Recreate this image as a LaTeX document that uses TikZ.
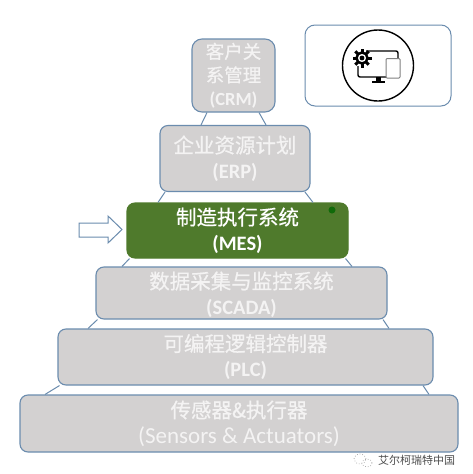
\documentclass[tikz,border=0pt]{standalone}
\usepackage{fontspec}
\setmainfont{Carlito}
\newfontfamily\cjk[FakeBold=0.6]{Noto Sans CJK SC}
\newfontfamily\cjkmark{Noto Sans CJK SC}
\definecolor{layergray}{HTML}{D3D1D1}
\definecolor{layerline}{HTML}{6B8CAE}
\definecolor{mesgreen}{HTML}{4F7A2C}
\definecolor{labelgray}{HTML}{F4F3F3}
\begin{document}
\begin{tikzpicture}[x=1pt, y=-1pt,
    layer/.style={draw=layerline, line width=1.1pt, rounded corners=8pt, fill=layergray,
                  align=center, text=labelgray, inner sep=0pt, font=\fontsize{20.5}{25.5}\selectfont},
    link/.style={draw=layerline, line width=1pt},
    ink/.style={draw=black, line width=1.4pt}]
    \useasboundingbox (0,0) rectangle (473,474);
    \fill[white] (0,0) rectangle (473,474);

    \node[layer, minimum width=83pt, minimum height=73pt, rounded corners=10pt, font=\fontsize{18.5}{23.5}\selectfont] (crm) at (233.5,75.5)
        {{\cjk 客户关}\\{\cjk 系管理}\\\textbf{(CRM)}};
    \node[layer, minimum width=150pt, minimum height=66pt] (erp) at (235,158.5)
        {{\cjk 企业资源计划}\\\textbf{(ERP)}};
    \node[layer, minimum width=221pt, minimum height=55pt, fill=mesgreen, draw=mesgreen, text=white] (mes) at (237.5,230.5)
        {{\cjk 制造执行系统}\\\textbf{(MES)}};
    \node[layer, minimum width=291pt, minimum height=52pt, text depth=0pt] (scada) at (241.5,293)
        {{\cjk 数据采集与监控系统}\\\textbf{(SCADA)}};
    \node[layer, minimum width=375pt, minimum height=56pt] (plc) at (245.5,357)
        {{\cjk 可编程逻辑控制器}\\\textbf{(PLC)}};
    \node[layer, minimum width=438pt, minimum height=57pt] (sensors) at (239,423.5)
        {{\cjk 传感器\&执行器}\\{\fontsize{23}{25.5}\selectfont (Sensors \& Actuators)}};

    % pyramid sides between the layers
    \draw[link] ([xshift=-26.5pt]crm.south) -- ([xshift=-34pt]erp.north);
    \draw[link] ([xshift=25.5pt]crm.south) -- ([xshift=31pt]erp.north);
    \draw[link] ([xshift=-70pt]erp.south) -- ([xshift=-79.5pt]mes.north);
    \draw[link] ([xshift=70pt]erp.south) -- ([xshift=75.5pt]mes.north);
    \draw[link] ([xshift=-108pt]mes.south) -- ([xshift=-119.5pt]scada.north);
    \draw[link] ([xshift=108pt]mes.south) -- ([xshift=110.5pt]scada.north);
    \draw[link] ([xshift=-144pt]scada.south) -- ([xshift=-157.5pt]plc.north);
    \draw[link] ([xshift=141.5pt]scada.south) -- ([xshift=143.5pt]plc.north);
    \draw[link] ([xshift=-186pt]plc.south) -- ([xshift=-194pt]sensors.north);
    \draw[link] ([xshift=177.5pt]plc.south) -- ([xshift=190pt]sensors.north);

    % small mark on the green box
    \fill[green!40!black!80!mesgreen] (332,210) circle (3.5pt);

    % hollow pointer
    \draw[layerline, line width=1pt, fill=white] (79,223) -- (108,223) -- (108,216) -- (122,229.5)
        -- (108,243) -- (108,237) -- (79,237) -- cycle;

    % icon box
    \node[draw=layerline, line width=1pt, rounded corners=10pt, minimum width=146pt, minimum height=81pt] (iconbox) at (378,65.5) {};
    \node[circle, ink, minimum size=71pt, inner sep=0pt] (iconring) at (iconbox.center) {};
    \draw[ink, rounded corners=2pt] (366,51) -- (398,51) -- (398,58);
    \draw[ink, rounded corners=2pt] (358,66) -- (358,77) -- (386,77);
    \draw[draw=gray, line width=1pt, rounded corners=1pt] (386,58.5) rectangle (400,78);
    \fill[black] (372,80.5) rectangle (385,83);
    \fill[black] (376,77) rectangle (381,81);
    \foreach \a in {0,45,...,315}
        \draw[black, line width=3pt] (362,58) ++(\a:5pt) -- ++(\a:4.5pt);
    \draw[black, line width=2.4pt] (362,58) circle (5.5pt);
    \fill[black] (362,58) circle (2.4pt);

    % watermark
    \draw[gray!70, line width=.7pt, dotted] (360,459) ellipse (6pt and 5pt);
    \draw[gray!70, line width=.7pt, dotted] (367,463) ellipse (5pt and 4pt);
    \node[font=\cjkmark\fontsize{11}{14}\selectfont, text=black!70, inner sep=0pt] (mark) at (416.5,460.5) {艾尔柯瑞特中国};
\end{tikzpicture}
\end{document}
